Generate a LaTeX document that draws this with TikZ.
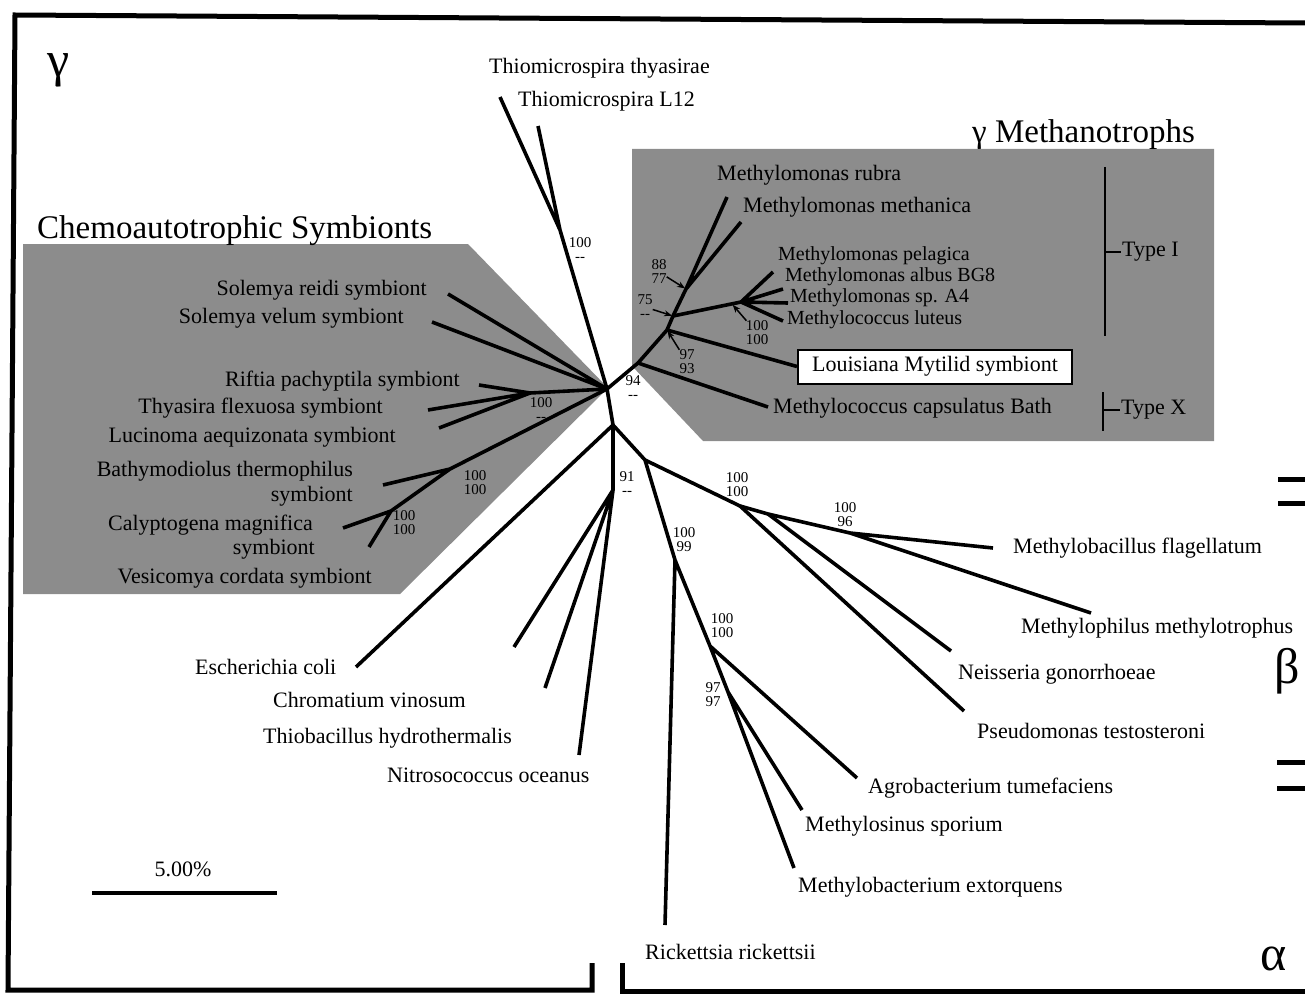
\documentclass[tikz,border=0pt]{standalone}
\usepackage{fontspec}
\setmainfont{Liberation Serif}
\usetikzlibrary{arrows.meta}
\begin{document}
\begin{tikzpicture}[x=1pt,y=-1pt,
  br/.style={line width=3.6pt, line join=round},
  lab/.style={font=\fontsize{22}{24}\selectfont, inner sep=0pt},
  labs/.style={font=\fontsize{20}{22}\selectfont, inner sep=0pt},
  bs/.style={font=\fontsize{15}{14}\selectfont, align=center, inner sep=0pt},
  shade/.style={fill=black!45, draw=none},
  frame/.style={line width=5pt, line join=miter},
  arr/.style={line width=1.5pt, shorten >=1pt, -{Stealth[length=8pt,width=6pt]}},
  greek/.style={font=\fontsize{50}{50}\selectfont, inner sep=0pt},
  ttl/.style={font=\fontsize{33}{36}\selectfont, inner sep=0pt},
  bracket/.style={line width=2.5pt}]
\useasboundingbox (0,0) rectangle (1305,995);

% shaded regions
\fill[shade] (23,244) -- (468,244) -- (608,388) -- (400,594) -- (23,594) -- cycle;
\fill[shade] (632,149) -- (1214,149) -- (1214,441) -- (703,441) -- (632,366) -- cycle;

% frame
\draw[frame] (1305,23) -- (15,15) -- (8,990) -- (592,990) -- (592,963);
\draw[frame] (622,963) -- (622,991) -- (1305,991);
\draw[line width=5pt] (1278,479) -- (1305,479) (1278,503) -- (1305,503);
\draw[line width=5pt] (1277,762) -- (1305,762) (1277,788) -- (1305,788);

% greek letters and titles
\node[greek, anchor=base] (gam) at (59,77) {γ};
\node[greek, anchor=base] (bet) at (1287,683) {β};
\node[greek, anchor=base] (alp) at (1274,970) {α};
\node[ttl, anchor=base west] (tchemo) at (37,238) {Chemoautotrophic Symbionts};
\node[ttl, anchor=base west] (tmeth) at (972,143) {γ Methanotrophs};

% scale bar
\coordinate (sb1) at (92,893);
\coordinate (sb2) at (277,893);
\draw[line width=4.5pt] (sb1) -- (sb2);
\node[lab] (sbl) at (183,869) {5.00\%};

% Louisiana box
\node[lab, draw, fill=white, line width=2pt, minimum width=274pt, minimum height=34pt] (lou) at (935,366.5) {Louisiana Mytilid symbiont};

% type brackets
\coordinate (ti1) at (1105,167); \coordinate (ti2) at (1105,336); \coordinate (tim) at (1105,252); \coordinate (tie) at (1121,252);
\draw[bracket] (ti1) -- (ti2); \draw[line width=2pt] (tim) -- (tie);
\node[lab, anchor=west] (typeI) at (1122,252) {Type I};
\coordinate (tx1) at (1103,392); \coordinate (tx2) at (1103,431); \coordinate (txm) at (1103,410); \coordinate (txe) at (1120,410);
\draw[bracket] (tx1) -- (tx2); \draw[line width=2pt] (txm) -- (txe);
\node[lab, anchor=west] (typeX) at (1121,410) {Type X};

% ---------- tree coordinates ----------
\coordinate (C0) at (607,389);
\coordinate (T) at (560,230);
\coordinate (eT1) at (500,97);
\coordinate (eT2) at (538,126);
% chemoautotrophic symbionts
\coordinate (ereidi) at (448,294);
\coordinate (evelum) at (432,322);
\coordinate (N1) at (530,393);
\coordinate (eRif) at (479,385);
\coordinate (eThy) at (428,410);
\coordinate (eLuc) at (439,428);
\coordinate (N2) at (450,469);
\coordinate (eBat) at (383,485);
\coordinate (N3) at (391,511);
\coordinate (eCal) at (343,528);
\coordinate (eVes) at (369,547);
% methanotrophs
\coordinate (M1) at (638,363);
\coordinate (M2) at (667,330);
\coordinate (M3) at (673,316);
\coordinate (M4) at (686,289);
\coordinate (MC) at (741,302);
\coordinate (MCa) at (732,304);
\coordinate (erub) at (727,197);
\coordinate (emet) at (741,222);
\coordinate (epel) at (773,272);
\coordinate (ealb) at (783,289);
\coordinate (eA4) at (788,303);
\coordinate (elut) at (783,321);
\coordinate (ecap) at (768,407);
% lower tree
\coordinate (C1) at (613,425);
\coordinate (eEco) at (356,667);
\coordinate (G) at (613,490);
\coordinate (eG1) at (514,647);
\coordinate (eG2) at (545,688);
\coordinate (eG3) at (579,755);
\coordinate (B0) at (645,460);
\coordinate (B1) at (740,506);
\coordinate (B1b) at (768,514);
\coordinate (B2) at (850,533);
\coordinate (eFla) at (993,548);
\coordinate (ePhi) at (1091,613);
\coordinate (eNei) at (951,651);
\coordinate (ePse) at (964,711);
\coordinate (A0) at (675,560);
\coordinate (eRic) at (665,925);
\coordinate (A1) at (710,646);
\coordinate (eAgr) at (857,778);
\coordinate (A2) at (728,692);
\coordinate (eSin) at (802,810);
\coordinate (eBac) at (794,868);

% ---------- branches ----------
\draw[br] (C0) -- (T) (T) -- (eT1) (T) -- (eT2);
\draw[br] (C0) -- (ereidi) (C0) -- (evelum);
\draw[br] (C0) -- (N1) (N1) -- (eRif) (N1) -- (eThy) (N1) -- (eLuc);
\draw[br] (C0) -- (N2) (N2) -- (eBat) (N2) -- (N3) (N3) -- (eCal) (N3) -- (eVes);
\draw[br] (C0) -- (M1) (M1) -- (ecap) (M1) -- (M2) (M2) -- (lou.west);
\draw[br] (M2) -- (M3) (M3) -- (M4) (M4) -- (erub) (M4) -- (emet);
\draw[br] (M3) -- (MC) (MC) -- (epel) (MC) -- (ealb) (MC) -- (eA4) (MC) -- (elut);
\draw[br] (C0) -- (C1) (C1) -- (eEco) (C1) -- (G);
\draw[br] (G) -- (eG1) (G) -- (eG2) (G) -- (eG3);
\draw[br] (C1) -- (B0) (B0) -- (B1) (B1) -- (B1b) (B1b) -- (B2) (B2) -- (eFla) (B2) -- (ePhi);
\draw[br] (B1) -- (ePse) (B1b) -- (eNei);
\draw[br] (B0) -- (A0) (A0) -- (eRic) (A0) -- (A1) (A1) -- (eAgr) (A1) -- (A2) (A2) -- (eSin) (A2) -- (eBac);

% ---------- bootstrap values ----------
\node[bs] (b1) at (580,250) {100\\-{}-};
\node[bs] (b2) at (633,388) {94\\-{}-};
\node[bs] (b3) at (659,272) {88\\77};
\node[bs] (b4) at (645,307) {75\\-{}-};
\node[bs] (b5) at (687,362) {97\\93};
\node[bs] (b6) at (757,333) {100\\100};
\node[bs] (b7) at (541,410) {100\\-{}-};
\node[bs] (b8) at (475,483) {100\\100};
\node[bs] (b9) at (404,523) {100\\100};
\node[bs] (b10) at (627,484) {91\\-{}-};
\node[bs] (b11) at (737,485) {100\\100};
\node[bs] (b12) at (845,515) {100\\96};
\node[bs] (b13) at (684,540) {100\\99};
\node[bs] (b14) at (722,626) {100\\100};
\node[bs] (b15) at (713,695) {97\\97};
\draw[arr] (b3) -- (M4);
\draw[arr] (b4) -- (M3);
\draw[arr] (b5) -- (M2);
\draw[arr] (b6) -- (MCa);

% ---------- leaf labels ----------
\node[lab, anchor=west] (lT1) at (489,68) {Thiomicrospira thyasirae};
\node[lab, anchor=west] (lT2) at (518,101) {Thiomicrospira L12};
\node[lab, anchor=east] (lreidi) at (427,290) {Solemya reidi symbiont};
\node[lab, anchor=east] (lvelum) at (404,318) {Solemya velum symbiont};
\node[lab, anchor=east] (lrif) at (460,381) {Riftia pachyptila symbiont};
\node[lab, anchor=east] (lthy) at (383,408) {Thyasira flexuosa symbiont};
\node[lab, anchor=east] (lluc) at (396,437) {Lucinoma aequizonata symbiont};
\node[lab, anchor=east] (lbat) at (353,471) {Bathymodiolus thermophilus};
\node[lab, anchor=east] (lbat2) at (353,496) {symbiont};
\node[lab, anchor=east] (lcal) at (313,525) {Calyptogena magnifica};
\node[lab, anchor=east] (lcal2) at (315,549) {symbiont};
\node[lab, anchor=east] (lves) at (372,578) {Vesicomya cordata symbiont};
\node[lab, anchor=west] (lrub) at (717,175) {Methylomonas rubra};
\node[lab, anchor=west] (lmet) at (743,207) {Methylomonas methanica};
\node[labs, anchor=west] (lpel) at (778,256) {Methylomonas pelagica};
\node[labs, anchor=west] (lalb) at (785,277) {Methylomonas albus BG8};
\node[labs, anchor=west] (lA4) at (790,298) {Methylomonas sp. A4};
\node[labs, anchor=west] (llut) at (787,320) {Methylococcus luteus};
\node[lab, anchor=west] (lcap) at (773,408) {Methylococcus capsulatus Bath};
\node[lab, anchor=west] (leco) at (195,667) {Escherichia coli};
\node[lab, anchor=west] (lchr) at (273,700) {Chromatium vinosum};
\node[lab, anchor=west] (lthb) at (263,738) {Thiobacillus hydrothermalis};
\node[lab, anchor=west] (lnit) at (387,775) {Nitrosococcus oceanus};
\node[lab, anchor=west] (lric) at (645,952) {Rickettsia rickettsii};
\node[lab, anchor=west] (lbac) at (798,887) {Methylobacterium extorquens};
\node[lab, anchor=west] (lsin) at (805,826) {Methylosinus sporium};
\node[lab, anchor=west] (lagr) at (868,788) {Agrobacterium tumefaciens};
\node[lab, anchor=west] (lpse) at (977,731) {Pseudomonas testosteroni};
\node[lab, anchor=west] (lnei) at (958,674) {Neisseria gonorrhoeae};
\node[lab, anchor=west] (lphi) at (1021,628) {Methylophilus methylotrophus};
\node[lab, anchor=west] (lfla) at (1013,548) {Methylobacillus flagellatum};
\end{tikzpicture}
\end{document}
